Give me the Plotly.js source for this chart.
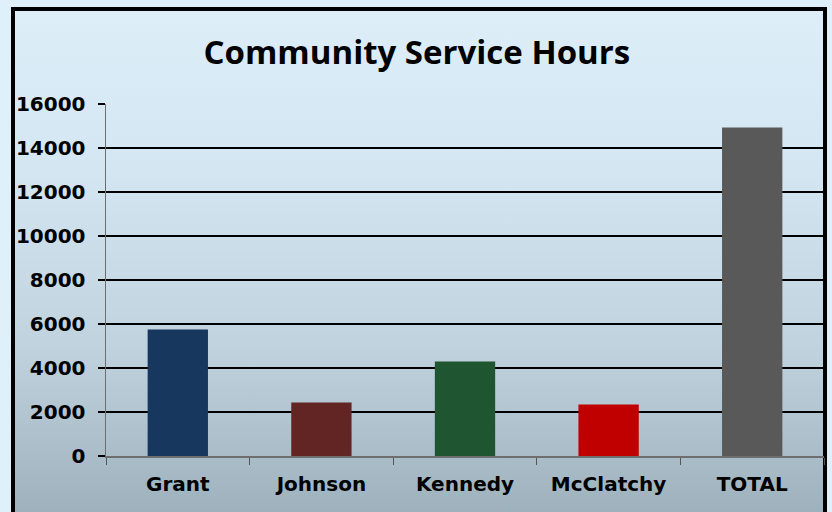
<!DOCTYPE html>
<html>
<head>
<meta charset="utf-8">
<script src="https://cdn.plot.ly/plotly-3.0.1.min.js"></script>
<style>
  html, body { margin: 0; padding: 0; width: 832px; height: 512px; overflow: hidden; background: #dff0fa; }
  #frame { position: absolute; left: 11px; top: 7px; width: 808px; height: 520px;
           border: 4px solid #000;
           background: linear-gradient(to bottom, #ddeef9 0%, #d3e6f1 30%, #bfd2dd 65%, #9aaeb9 100%); }
  #chart { position: absolute; left: 0; top: 0; width: 832px; height: 512px; }
</style>
</head>
<body>
<div id="frame"></div>
<div id="chart"></div>
<script>
const categories = ["Grant", "Johnson", "Kennedy", "McClatchy", "TOTAL"];
const hours = [5750, 2430, 4300, 2340, 14930];
const barColors = ["#17375e", "#632523", "#1f5631", "#c00000", "#595959"];
const yTicks = [0, 2000, 4000, 6000, 8000, 10000, 12000, 14000, 16000];

const trace = {
  type: "bar",
  x: categories,
  y: hours,
  marker: { color: barColors, line: { width: 0 } },
  hoverinfo: "x+y"
};

const layout = {
  width: 832, height: 512,
  paper_bgcolor: "rgba(0,0,0,0)",
  plot_bgcolor: "rgba(0,0,0,0)",
  margin: { l: 106, r: 8, t: 103.5, b: 56.3 },
  bargap: 0.58,
  showlegend: false,
  title: {
    text: "Community Service Hours",
    font: { family: "Open Sans", size: 33, color: "#000", weight: "bold" },
    x: 0.501, xref: "container", xanchor: "center",
    y: 0.898, yref: "container", yanchor: "middle"
  },
  xaxis: {
    showgrid: false,
    showline: true, linecolor: "#6e6e6e", linewidth: 1.5,
    ticks: "outside", tickson: "boundaries", ticklen: 7, tickcolor: "#555", tickwidth: 1,
    ticklabelstandoff: 9,
    tickfont: { family: "DejaVu Sans", size: 20, color: "#000", weight: "bold" },
    fixedrange: true
  },
  yaxis: {
    range: [0, 16000],
    tickvals: yTicks,
    ticktext: yTicks.map(String),
    showgrid: true, gridcolor: "#000", gridwidth: 2,
    zeroline: false,
    showline: true, linecolor: "#6e6e6e", linewidth: 1.5,
    ticks: "outside", ticklen: 7, tickcolor: "#000", tickwidth: 2,
    ticklabelstandoff: 8,
    tickfont: { family: "DejaVu Sans", size: 20, color: "#000", weight: "bold" },
    fixedrange: true
  }
};

Plotly.newPlot("chart", [trace], layout, { displayModeBar: false, staticPlot: true });
</script>
</body>
</html>
